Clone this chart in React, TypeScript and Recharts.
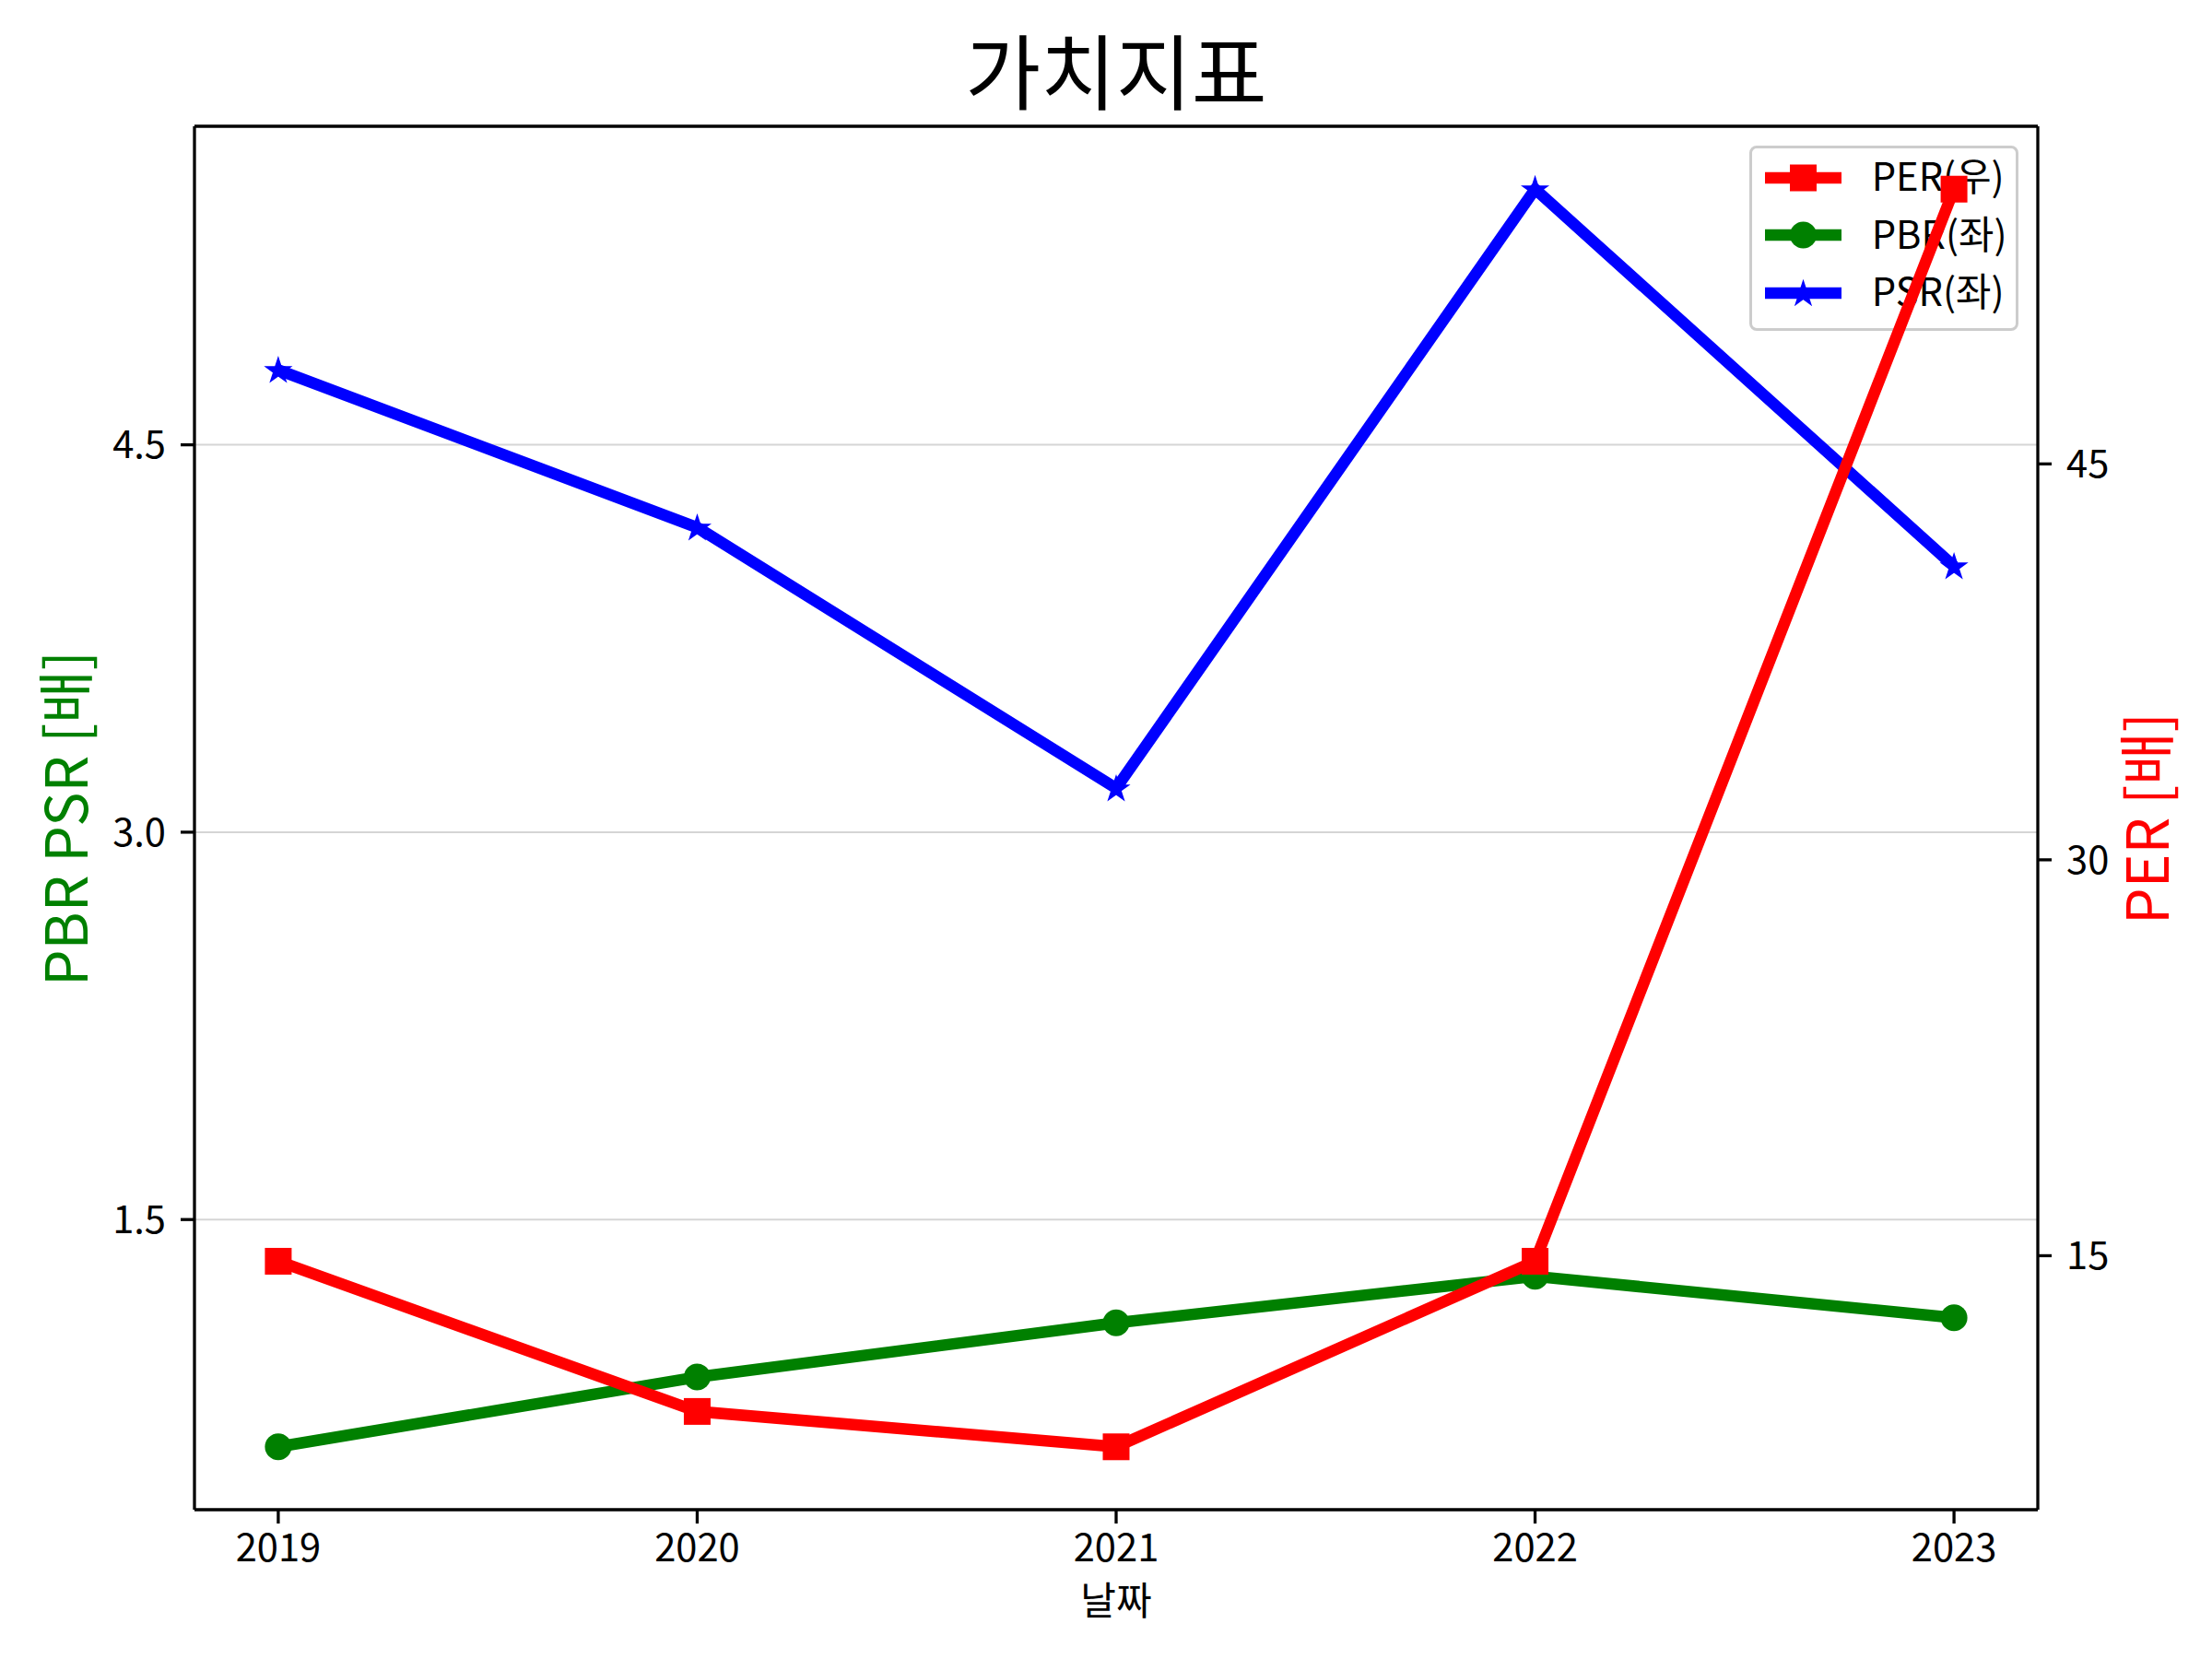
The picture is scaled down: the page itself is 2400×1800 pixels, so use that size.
import React from "react";
import {
  ComposedChart, Line, XAxis, YAxis, CartesianGrid, Legend, ReferenceLine
} from "recharts";

const FONT = "'Noto Sans CJK KR', 'Noto Sans', sans-serif";

const years = [2019, 2020, 2021, 2022, 2023];
const perValues = [14.79, 9.1, 7.76, 14.79, 55.41];
const pbrValues = [0.62, 0.89, 1.1, 1.28, 1.12];
const psrValues = [4.79, 4.18, 3.17, 5.49, 4.03];
const leftTicks = [1.5, 3.0, 4.5];
const rightTicks = [15, 30, 45];
const legendOrder = ["per", "pbr", "psr"];
const seriesNames: Record<string, string> = { per: "PER(우)", pbr: "PBR(좌)", psr: "PSR(좌)" };
const seriesColors: Record<string, string> = { per: "#ff0000", pbr: "#008000", psr: "#0000ff" };

const data = years.map((year, i) => ({
  year, per: perValues[i], pbr: pbrValues[i], psr: psrValues[i]
}));

// same 5% padding matplotlib puts around the data
function padded(values: number[]): [number, number] {
  const lo = Math.min(...values);
  const hi = Math.max(...values);
  const m = (hi - lo) * 0.05;
  return [lo - m, hi + m];
}
const xDomain = padded(years);
const leftDomain = padded([...pbrValues, ...psrValues]);
const rightDomain = padded(perValues);

const LW = 12.5;
const tickStyle = { fill: "#000", fontSize: 41.7, fontFamily: FONT };
const spine = { stroke: "#000", strokeWidth: 3.3 };

function starPoints(cx: number, cy: number, r: number) {
  const pts: string[] = [];
  for (let k = 0; k < 10; k++) {
    const rr = k % 2 === 0 ? r : r * 0.382;
    const a = -Math.PI / 2 + (k * Math.PI) / 5;
    pts.push(`${cx + rr * Math.cos(a)},${cy + rr * Math.sin(a)}`);
  }
  return pts.join(" ");
}

function Marker({ kind, cx, cy }: { kind: string; cx: number; cy: number }) {
  const c = seriesColors[kind];
  if (kind === "per") return <rect x={cx - 14.5} y={cy - 14.5} width={29} height={29} fill={c} />;
  if (kind === "pbr") return <circle cx={cx} cy={cy} r={14.5} fill={c} />;
  return (
    <polygon points={starPoints(cx, cy + 1, 11.5)} fill={c} stroke={c} strokeWidth={3} strokeLinejoin="miter" />
  );
}

const makeDot = (kind: string) => (props: any) => {
  const { cx, cy, index } = props;
  if (cx == null || cy == null) return <g key={`${kind}-${index}`} />;
  return (
    <g key={`${kind}-${index}`}>
      <Marker kind={kind} cx={cx} cy={cy} />
    </g>
  );
};

function LegendBox() {
  const rowY = [35, 97.5, 160];
  return (
    <div style={{
      width: 292, height: 201, boxSizing: "border-box", position: "relative",
      border: "3.3px solid #cccccc", borderRadius: 8, background: "rgba(255,255,255,0.8)",
      fontFamily: FONT, fontSize: 41.7, color: "#000"
    }}>
      {legendOrder.map((key, i) => (
        <div key={key} style={{
          position: "absolute", left: -3.3, top: rowY[i] - 3.3 - 25, height: 50,
          display: "flex", alignItems: "center", whiteSpace: "nowrap"
        }}>
          <svg width={133} height={50} style={{ display: "block" }}>
            <line x1={17} x2={100} y1={25} y2={25} stroke={seriesColors[key]} strokeWidth={LW} />
            <Marker kind={key} cx={58.5} cy={25} />
          </svg>
          <span style={{ lineHeight: 1, marginTop: -5 }}>{seriesNames[key]}</span>
        </div>
      ))}
    </div>
  );
}

function Text({ x, y, size, color = "#000", rotate = false, children }: any) {
  const shift = 0.07 * size;
  return (
    <div style={{
      position: "absolute",
      left: rotate ? x - shift : x,
      top: rotate ? y : y - shift,
      transform: `translate(-50%, -50%)${rotate ? " rotate(-90deg)" : ""}`,
      fontFamily: FONT, fontSize: size, lineHeight: 1, color, whiteSpace: "nowrap"
    }}>
      {children}
    </div>
  );
}

export default function App() {
  return (
    <div style={{
      position: "absolute", left: 0, top: 0, width: 2400, height: 1800,
      background: "#fff", zIndex: 0, overflow: "hidden"
    }}>
      <ComposedChart
        width={2400}
        height={1800}
        data={data}
        margin={{ top: 137, right: 39, bottom: 62, left: 61 }}
      >
        <CartesianGrid yAxisId="left" vertical={false} stroke="#d5d5d5" strokeWidth={2} />
        <XAxis
          dataKey="year" type="number" domain={xDomain} ticks={years} interval={0}
          allowDataOverflow height={100} tick={tickStyle} tickSize={15} tickMargin={11}
          axisLine={spine} tickLine={spine}
        />
        <YAxis
          yAxisId="left" type="number" domain={leftDomain} ticks={leftTicks} interval={0}
          allowDataOverflow width={150} tick={tickStyle} tickSize={15} tickMargin={16}
          tickFormatter={(v: number) => v.toFixed(1)} axisLine={spine} tickLine={spine}
        />
        <YAxis
          yAxisId="right" orientation="right" type="number" domain={rightDomain} ticks={rightTicks}
          interval={0} allowDataOverflow width={150} tick={tickStyle} tickSize={15} tickMargin={16}
          axisLine={spine} tickLine={spine}
        />
        <ReferenceLine yAxisId="left" y={leftDomain[1]} stroke="#000" strokeWidth={3.3} ifOverflow="visible" />
        <Legend
          layout="horizontal" verticalAlign="middle" align="center"
          content={() => <LegendBox />}
          wrapperStyle={{ left: 1898, top: 158, width: 292, height: 201, zIndex: -1 }}
        />
        <Line
          yAxisId="left" type="linear" dataKey="pbr" name={seriesNames.pbr} stroke={seriesColors.pbr}
          strokeWidth={LW} strokeLinejoin="round" dot={makeDot("pbr")} activeDot={false}
          isAnimationActive={false}
        />
        <Line
          yAxisId="left" type="linear" dataKey="psr" name={seriesNames.psr} stroke={seriesColors.psr}
          strokeWidth={LW} strokeLinejoin="round" dot={makeDot("psr")} activeDot={false}
          isAnimationActive={false}
        />
        <Line
          yAxisId="right" type="linear" dataKey="per" name={seriesNames.per} stroke={seriesColors.per}
          strokeWidth={LW} strokeLinejoin="round" dot={makeDot("per")} activeDot={false}
          isAnimationActive={false}
        />
      </ComposedChart>

      <Text x={1211} y={79} size={89}>가치지표</Text>
      <Text x={1211} y={1737} size={42}>날짜</Text>
      <Text x={72} y={888} size={62.5} color="#008000" rotate>PBR PSR [배]</Text>
      <Text x={2330} y={888} size={62.5} color="#ff0000" rotate>PER [배]</Text>
    </div>
  );
}
